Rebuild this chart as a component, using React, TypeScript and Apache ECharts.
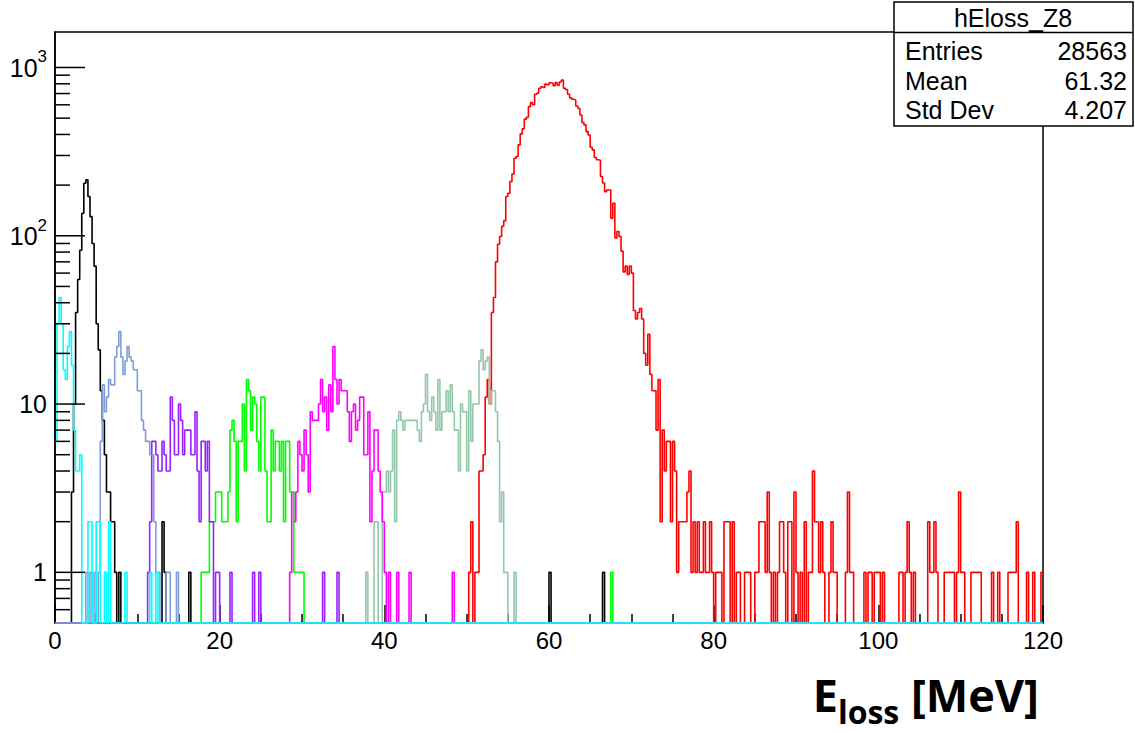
import React, { useEffect, useRef } from "react";
import * as echarts from "echarts";

const BIN_WIDTH = 0.25;
const N_BINS = 480;
const Y_MIN = 0.5;
const Y_MAX = 1625;
const FONT = "'Liberation Sans', Arial, Helvetica, sans-serif";

// ---- tick values / labels ----
const yMajorTicks = [1, 10, 100, 1000];
const yMajorBase = ["1", "10", "10", "10"];
const yMajorExp = ["", "", "2", "3"];
const yMinorTicks = [0.6, 0.7, 0.8, 0.9, 2, 3, 4, 5, 6, 7, 8, 9, 20, 30, 40, 50, 60, 70, 80, 90, 200, 300, 400, 500, 600, 700, 800, 900];

// ---- stat box ----
const statTitle = "hEloss_Z8";
const statNames = ["Entries", "Mean", "Std Dev"];
const statValues = ["28563", "61.32", "4.207"];

// ---- histograms: counts per 0.25 MeV bin (start bin + dense counts, plus isolated bins) ----
const redStart = 201;
const redCounts = [
  1, 2, 0, 1, 1, 4, 4, 5, 11, 14, 10, 35, 43, 70, 89, 99, 114, 123, 171, 179,
  210, 233, 289, 296, 347, 403, 432, 493, 506, 585, 618, 600, 693, 703, 753, 769, 760, 798, 790, 812,
  805, 780, 815, 785, 820, 843, 753, 740, 693, 660, 647, 641, 590, 572, 522, 470, 456, 416, 397, 336,
  324, 292, 283, 281, 225, 206, 183, 187, 187, 127, 156, 97, 106, 99, 81, 61, 66, 59, 66, 60,
  36, 32, 35, 37, 32, 20, 17, 26, 15, 12, 12, 7, 14, 2, 7, 4, 6, 6, 2, 6,
  4, 1, 2, 2, 2, 2, 3, 4, 1, 2, 1, 2,
  1, 1, 2, 1, 1, 2, 1, 0, 1, 1,
  1, 0, 2, 2, 2, 0, 2, 0, 1, 1,
  0, 0, 1, 1, 1, 0, 0, 1, 1, 2,
  2, 2, 1, 3, 1, 0, 1, 0, 1, 2,
  2, 1, 0, 2, 2, 0, 3, 1, 0, 1,
  0, 2, 0, 1, 1, 4, 2, 2, 1, 2,
  1, 0, 0, 1, 2, 1, 1, 0, 0, 0,
  0, 1, 3, 1, 1, 0, 0, 0, 0, 0,
  1, 0, 1, 1, 0, 1, 1, 1, 0, 1,
  0, 0, 0, 0, 0, 0, 0, 1, 1, 0,
  1, 2, 1, 0, 1, 0, 0, 0, 0, 0,
  0, 2, 1, 1, 2, 1, 0, 0, 0, 1,
  1, 1, 1, 1, 0, 1, 3, 1, 1, 0,
  0, 0, 1, 1, 1, 1, 1, 0, 0, 0,
  0, 0, 1, 0, 0, 1, 0, 0, 0, 0,
  1, 1, 1, 1, 2, 0, 0, 0, 0, 1,
  0, 0, 1, 0, 0, 0, 1,
];

const blackStart = 8;
const blackCounts = [3, 10, 35, 55, 82, 136, 205, 215, 171, 130, 90, 66, 30, 21, 12, 8, 5, 3, 3, 2, 2, 1];
const blackExtra: [number, number][] = [[31, 1], [52, 2], [53, 1], [65, 1], [240, 1], [266, 1]];

const cyanStart = 0;
const cyanCounts = [6, 30, 43, 30, 16, 14, 22, 27, 17, 7, 4, 4, 5];
const cyanExtra: [number, number][] = [[16, 2], [17, 2], [20, 2], [21, 2], [24, 1], [26, 2], [34, 1], [46, 1], [49, 1]];

const lightBlueStart = 21;
const lightBlueCounts = [1, 6, 13, 9, 11, 14, 13, 13, 19, 22, 27, 19, 15, 18, 22, 19, 18, 16, 16, 12, 12, 8, 7, 6, 6, 5, 5, 2, 1, 1];
const lightBlueExtra: [number, number][] = [[15, 1], [17, 1], [19, 1], [54, 1], [55, 1], [59, 1]];

const purpleStart = 45;
const purpleCounts = [1, 2, 6, 6, 5, 4, 4, 6, 5, 4, 4, 11, 8, 5, 5, 10, 8, 5, 7, 7, 7, 5, 5, 9, 4, 2, 6, 6, 4, 6, 2, 2, 0, 1, 1];
const purpleExtra: [number, number][] = [[85, 1], [96, 1], [99, 1], [130, 1], [137, 1]];

const greenStart = 71;
const greenCounts = [1, 1, 1, 1, 2, 2, 2, 3, 3, 3, 2, 2, 2, 3, 7, 8, 6, 2, 6, 6, 10, 4, 14, 12, 7, 11, 10, 6, 4, 11, 11, 4, 2, 2, 7, 4, 6, 6, 4, 6, 2, 6, 6, 3, 3, 1, 1, 1, 1, 1];
const greenExtra: [number, number][] = [[270, 1]];

const magentaStart = 114;
const magentaCounts = [1, 3, 2, 3, 6, 5, 4, 7, 5, 3, 9, 8, 8, 8, 10, 14, 9, 11, 7, 13, 9, 22, 14, 10, 14, 12, 12, 12, 9, 6, 9, 10, 7, 8, 11, 11, 5, 5, 9, 2, 4, 7, 7, 4, 3, 2, 1];
const magentaExtra: [number, number][] = [[162, 1], [166, 1], [172, 1], [193, 1]];

const tealStart = 151;
const tealCounts = [1, 0, 0, 0, 2, 2, 0, 0, 3, 3, 4, 3, 4, 7, 2, 8, 9, 8, 7, 8, 8, 8, 8, 8, 8, 7, 6, 9, 10, 15, 9, 8, 11, 9, 7, 14, 7, 9, 9, 12, 9, 13, 9, 7, 7, 4, 10, 9, 9, 4, 12, 6, 10, 10, 10, 18, 21, 16, 18, 19, 10, 12, 12, 9, 6, 2, 3, 1, 1];
const tealExtra: [number, number][] = [[223, 1]];

function dense(start: number, counts: number[], extra: [number, number][]) {
  const arr = new Array(N_BINS).fill(0);
  counts.forEach((c, j) => {
    arr[start + j] = c;
  });
  extra.forEach(([b, c]) => {
    arr[b] = c;
  });
  return arr;
}

function steps(counts: number[]) {
  const pts: number[][] = [];
  counts.forEach((c, i) => {
    const y = c > 0 ? c : Y_MIN;
    pts.push([i * BIN_WIDTH, y], [(i + 1) * BIN_WIDTH, y]);
  });
  return pts;
}

const histos = [
  { name: "Z8", color: "#ff0000", counts: dense(redStart, redCounts, []) },
  { name: "Z2", color: "#000000", counts: dense(blackStart, blackCounts, blackExtra) },
  { name: "Z7", color: "#92c8aa", counts: dense(tealStart, tealCounts, tealExtra) },
  { name: "Z6", color: "#ff00ff", counts: dense(magentaStart, magentaCounts, magentaExtra) },
  { name: "Z5", color: "#00ff00", counts: dense(greenStart, greenCounts, greenExtra) },
  { name: "Z4", color: "#9a20ff", counts: dense(purpleStart, purpleCounts, purpleExtra) },
  { name: "Z3", color: "#7f9ed8", counts: dense(lightBlueStart, lightBlueCounts, lightBlueExtra) },
  { name: "Z1", color: "#00ffff", counts: dense(cyanStart, cyanCounts, cyanExtra) },
];

export default function App() {
  const ref = useRef<HTMLDivElement>(null);
  useEffect(() => {
    if (!ref.current) return;
    const chart = echarts.init(ref.current, undefined, { renderer: "svg" });

    const tickData = [
      ...yMajorTicks.map((v, i) => [0, v, 1, i]),
      ...yMinorTicks.map((v) => [0, v, 0, -1]),
    ];

    const series: any[] = histos.map((h) => ({
      type: "line",
      name: h.name,
      data: steps(h.counts),
      showSymbol: false,
      symbol: "none",
      clip: false,
      silent: true,
      lineStyle: { color: h.color, width: 1.6 },
    }));

    series.push({
      type: "custom",
      name: "yticks",
      silent: true,
      data: tickData,
      encode: { x: 0, y: 1 },
      z: 5,
      renderItem: (params: any, api: any) => {
        const v = api.value(1);
        const major = api.value(2) === 1;
        const li = api.value(3);
        const p = api.coord([0, v]);
        const children: any[] = [
          {
            type: "line",
            shape: { x1: p[0], y1: p[1], x2: p[0] + (major ? 30 : 15), y2: p[1] },
            style: { stroke: "#000", lineWidth: 1.5 },
          },
        ];
        if (major) {
          const exp = yMajorExp[li];
          const text = exp ? `{b|${yMajorBase[li]}}{s|${exp}}` : `{b|${yMajorBase[li]}}`;
          children.push({
            type: "text",
            x: p[0] - 8,
            y: p[1] + (exp ? -3 : 0),
            style: {
              text,
              align: "right",
              verticalAlign: "middle",
              rich: {
                b: { fontSize: 25, fontFamily: FONT, fill: "#000", color: "#000", verticalAlign: "bottom", padding: exp ? [7, 0, 0, 0] : 0 },
                s: { fontSize: 17, fontFamily: FONT, fill: "#000", color: "#000", verticalAlign: "top" },
              },
            },
          });
        }
        return { type: "group", children };
      },
    });

    chart.setOption({
      animation: false,
      backgroundColor: "#ffffff",
      grid: {
        left: 55,
        right: 92,
        top: 32,
        bottom: 110,
        show: true,
        borderColor: "#000",
        borderWidth: 1.5,
        backgroundColor: "transparent",
      },
      xAxis: {
        type: "value",
        min: 0,
        max: 120,
        interval: 20,
        axisLine: { show: true, lineStyle: { color: "#000", width: 1.5 } },
        axisTick: { show: true, inside: true, length: 18, lineStyle: { color: "#000", width: 1.5 } },
        minorTick: { show: true, splitNumber: 4, length: 9, lineStyle: { color: "#000", width: 1.5 } },
        splitLine: { show: false },
        minorSplitLine: { show: false },
        axisLabel: { fontSize: 24, color: "#000", fontFamily: FONT, margin: 5 },
      },
      yAxis: {
        type: "log",
        logBase: 10,
        min: Y_MIN,
        max: Y_MAX,
        axisLine: { show: true, lineStyle: { color: "#000", width: 1.5 } },
        axisTick: { show: false },
        axisLabel: { show: false },
        splitLine: { show: false },
        minorTick: { show: false },
      },
      series,
      graphic: [
        {
          type: "rect",
          z: 100,
          shape: { x: 894, y: 2, width: 239, height: 124 },
          style: { fill: "#fff", stroke: "#000", lineWidth: 1.5 },
        },
        {
          type: "line",
          z: 101,
          shape: { x1: 894, y1: 32.5, x2: 1133, y2: 32.5 },
          style: { stroke: "#000", lineWidth: 1.5 },
        },
        {
          type: "text",
          z: 101,
          x: 1013,
          y: 18,
          style: { text: statTitle, fontSize: 25, fontFamily: FONT, fill: "#000", align: "center", verticalAlign: "middle" },
        },
        ...statNames.map((n, i) => ({
          type: "text",
          z: 101,
          x: 905,
          y: 51 + i * 29.5,
          style: { text: n, fontSize: 25, fontFamily: FONT, fill: "#000", align: "left", verticalAlign: "middle" },
        })),
        ...statValues.map((v, i) => ({
          type: "text",
          z: 101,
          x: 1127,
          y: 51 + i * 29.5,
          style: { text: v, fontSize: 25, fontFamily: FONT, fill: "#000", align: "right", verticalAlign: "middle" },
        })),
        {
          type: "text",
          z: 101,
          x: 1039,
          y: 727,
          style: {
            text: "{m|E}{s|loss}{m| [MeV]}",
            align: "right",
            verticalAlign: "bottom",
            rich: {
              m: { fontSize: 45, fontWeight: "bold", fontFamily: "'Open Sans', sans-serif", fill: "#000", color: "#000", verticalAlign: "bottom", padding: [0, 0, 10, 0] },
              s: { fontSize: 32, fontWeight: "bold", fontFamily: "'Open Sans', sans-serif", fill: "#000", color: "#000", verticalAlign: "bottom" },
            },
          },
        },
      ],
    });
    return () => chart.dispose();
  }, []);
  return <div ref={ref} style={{ position: "absolute", left: 0, top: 0, width: 1135, height: 733, background: "#fff" }} />;
}
